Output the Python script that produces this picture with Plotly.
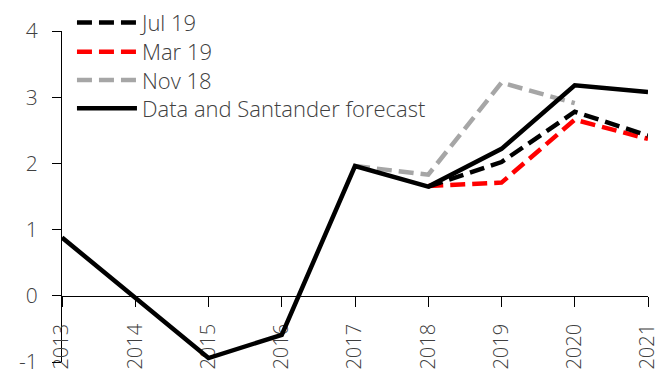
import plotly.graph_objects as go

years = [2013, 2014, 2015, 2016, 2017, 2018, 2019, 2020, 2021]
actual = [0.88, -0.03, -0.94, -0.59, 1.96, 1.65, 2.22, 3.18, 3.08]

jul19_years = [2018, 2019, 2020, 2021]
jul19 = [1.65, 2.02, 2.78, 2.42]

mar19_years = [2018, 2019, 2020, 2021]
mar19 = [1.66, 1.71, 2.66, 2.37]

nov18_years = [2017, 2018, 2019, 2020]
nov18 = [1.96, 1.83, 3.22, 2.91]

y_ticks = [-1, 0, 1, 2, 3, 4]
y_labels = ["-1", "0", "1", "2", "3", "4"]

FONT = "Open Sans"
TEXT = "#404040"
DASH = "15px,7px"
LW = 4.5

fig = go.Figure()
fig.add_trace(go.Scatter(x=nov18_years, y=nov18, mode="lines", name="Nov 18",
                         line=dict(color="#a6a6a6", width=LW, dash=DASH), legend="legend3"))
fig.add_trace(go.Scatter(x=mar19_years, y=mar19, mode="lines", name="Mar 19",
                         line=dict(color="#ff0000", width=LW, dash=DASH), legend="legend2"))
fig.add_trace(go.Scatter(x=jul19_years, y=jul19, mode="lines", name="Jul 19",
                         line=dict(color="#000000", width=LW, dash=DASH), legend="legend"))
fig.add_trace(go.Scatter(x=years, y=actual, mode="lines", name="Data and Santander forecast",
                         line=dict(color="#000000", width=LW), legend="legend4"))


def legend_row(y):
    # one legend box per entry, so the rows can sit closer than the default spacing
    return dict(x=0.017, y=y, xanchor="left", yanchor="middle",
                bgcolor="rgba(0,0,0,0)", font=dict(size=22, color=TEXT),
                itemwidth=60)


fig.update_layout(
    width=668, height=369,
    margin=dict(l=62, r=20, t=31, b=7, autoexpand=False),
    paper_bgcolor="white", plot_bgcolor="white",
    font=dict(family=FONT, color=TEXT, size=20, weight=300),
    showlegend=True,
    legend=legend_row(1.025),
    legend2=legend_row(0.937),
    legend3=legend_row(0.851),
    legend4=legend_row(0.766),
    xaxis=dict(
        range=[2013, 2021], tickmode="array", tickvals=years,
        ticktext=[str(y) for y in years], tickangle=-90,
        anchor="free", position=0.2, automargin=False,
        showline=True, linecolor="black", linewidth=1.3,
        ticks="outside", ticklen=10, tickcolor="black", tickwidth=1.3,
        showgrid=False, zeroline=False, layer="below traces",
        tickfont=dict(size=20, color=TEXT), ticklabelstandoff=9,
        ticklabeloverflow="allow",
    ),
    yaxis=dict(
        range=[-1, 4], tickmode="array", tickvals=y_ticks, ticktext=y_labels,
        automargin=False,
        showline=True, linecolor="black", linewidth=1.3,
        ticks="outside", ticklen=9, tickcolor="black", tickwidth=1.3,
        showgrid=False, zeroline=False, layer="below traces",
        tickfont=dict(size=21, color=TEXT), ticklabelstandoff=10,
        ticklabeloverflow="allow",
    ),
)

fig.write_html("out.html")
